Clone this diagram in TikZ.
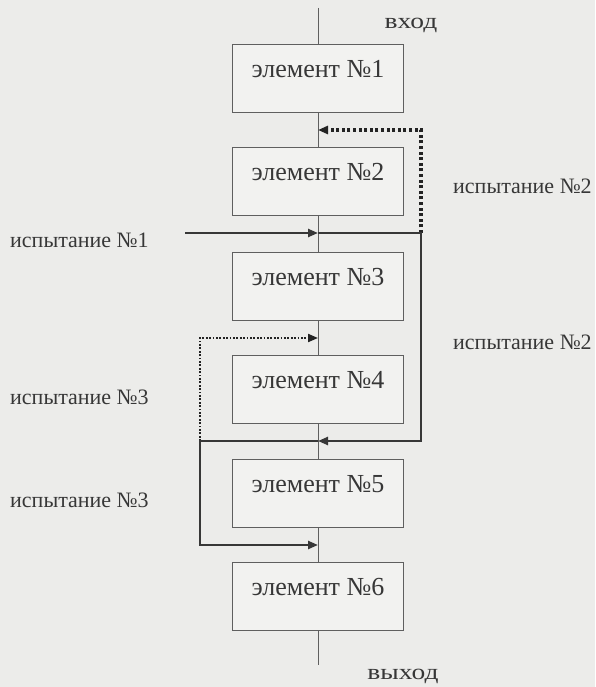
\documentclass[tikz,border=0pt]{standalone}
\usepackage{fontspec}
\setmainfont{Liberation Serif}
\newfontfamily\widefont[FakeStretch=1.25]{Liberation Serif}
\usetikzlibrary{arrows.meta}
\definecolor{bg}{RGB}{236,236,234}
\definecolor{boxfill}{RGB}{242,242,240}
\definecolor{ink}{RGB}{55,55,55}
\definecolor{dotink}{RGB}{35,35,35}
\definecolor{frame}{RGB}{95,95,95}
\begin{document}
\begin{tikzpicture}[x=1pt,y=-1pt,
  elem/.style={draw=frame, line width=1pt, fill=boxfill, minimum width=171pt, minimum height=68pt, inner sep=0pt, font=\fontsize{26}{26}\selectfont, text=ink, text height=18pt, text depth=20pt},
  mainln/.style={draw=frame, line width=1pt},
  route/.style={draw=ink, line width=2.3pt},
  tip/.style={-{Triangle[length=10pt,width=8pt]}},
  dotA/.style={draw=dotink, line width=3.2pt, dash pattern=on 3pt off 2.6pt},
  dotB/.style={draw=dotink, line width=2pt, dash pattern=on 1.8pt off 1.6pt},
  lbl/.style={font=\fontsize{22}{22}\selectfont, text=ink, inner sep=0pt},
  iolbl/.style={font=\widefont\fontsize{22}{22}\selectfont, text=ink, inner sep=0pt}]
\useasboundingbox (0,0) rectangle (595,687);
\fill[bg] (0,0) rectangle (595,687);

\node[elem] (e1) at (318,79) {элемент №1};
\node[elem] (e2) at (318,181.5) {элемент №2};
\node[elem] (e3) at (318,286) {элемент №3};
\node[elem] (e4) at (318,389.5) {элемент №4};
\node[elem] (e5) at (318,493) {элемент №5};
\node[elem] (e6) at (318,596) {элемент №6};

\coordinate (in) at (318,8);
\coordinate (out) at (318,665);
\coordinate (j1) at (318,130);
\coordinate (j2) at (318,233);
\coordinate (j3) at (318,338);
\coordinate (j4) at (318,441);
\coordinate (j5) at (318,545);
\coordinate (t1s) at (185,233);
\coordinate (r1) at (421,233);
\coordinate (r2) at (421,441);
\coordinate (l1) at (200,441);
\coordinate (l2) at (200,545);
\coordinate (d2) at (421,130);
\coordinate (d3) at (200,338);

\draw[mainln] (in) -- (e1);
\draw[mainln] (e1) -- (e2);
\draw[mainln] (e2) -- (e3);
\draw[mainln] (e3) -- (e4);
\draw[mainln] (e4) -- (e5);
\draw[mainln] (e5) -- (e6);
\draw[mainln] (e6) -- (out);

\draw[dotA,tip] (r1) -- (d2) -- (j1);
\draw[dotB,tip] (l1) -- (d3) -- (j3);
\draw[route,tip] (t1s) -- (j2);
\draw[route,tip] (j2) -- (r1) -- (r2) -- (j4);
\draw[route,tip] (j4) -- (l1) -- (l2) -- (j5);

\node[iolbl] (inl) at (411,25) {вход};
\node[iolbl] (outl) at (403,676) {выход};
\node[lbl, anchor=west] (lab1) at (10,240) {испытание №1};
\node[lbl, anchor=west] (lab2a) at (453,186) {испытание №2};
\node[lbl, anchor=west] (lab2b) at (453,342) {испытание №2};
\node[lbl, anchor=west] (lab3a) at (10,397) {испытание №3};
\node[lbl, anchor=west] (lab3b) at (10,500) {испытание №3};
\end{tikzpicture}
\end{document}
